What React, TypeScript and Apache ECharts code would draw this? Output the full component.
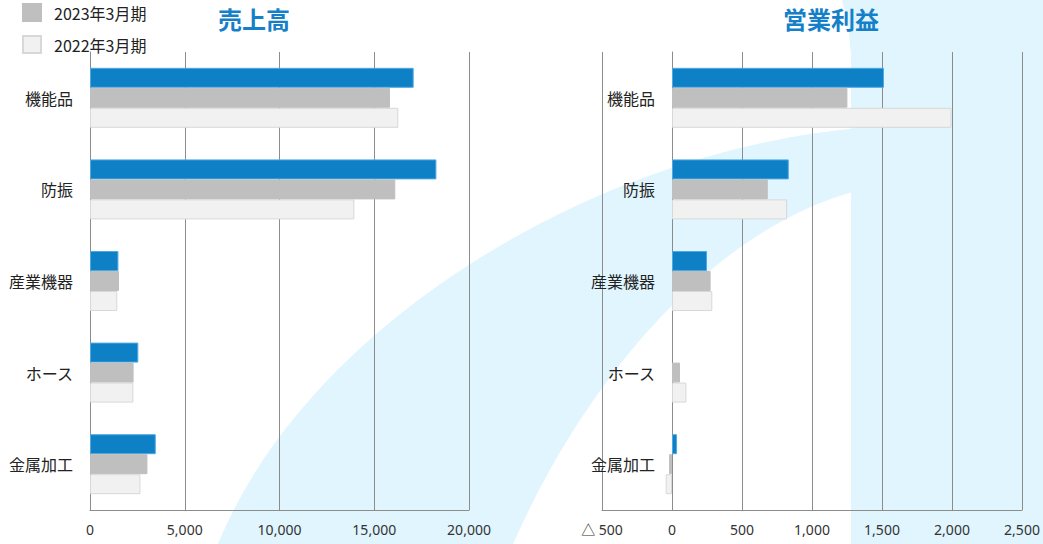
import React, { useEffect, useRef } from "react";
import * as echarts from "echarts";

// ---- data ----
const categories = ["機能品", "防振", "産業機器", "ホース", "金属加工"];
const seriesNames = ["2024年3月期", "2023年3月期", "2022年3月期"];
const legendNames = ["2023年3月期", "2022年3月期"];
const titles = ["売上高", "営業利益"];

const sales2024 = [17080, 18280, 1500, 2550, 3470];
const sales2023 = [15830, 16110, 1530, 2300, 3030];
const sales2022 = [16270, 13950, 1440, 2290, 2660];

const profit2024 = [1514, 834, 250, 0, 36];
const profit2023 = [1253, 684, 276, 57, -21];
const profit2022 = [1996, 822, 288, 103, -45];

const salesAxis = { min: 0, max: 20000, interval: 5000 };
const profitAxis = { min: -500, max: 2500, interval: 500 };

const colors = ["#0e80c6", "#bfbfbf", "#f1f1f1"];
const borders = ["#4fa8e0", "#bfbfbf", "#d8d8d8"];

echarts.graphic.registerShape(
  "bgCrescent",
  echarts.graphic.extendPath(
    "M218,544 C310,320 600,150 860,128 L860,190 C720,225 590,370 513,544 Z",
    {}
  )
);

const CJK = "'Noto Sans CJK JP', 'Noto Sans', sans-serif";
const NUM = "'Noto Sans', 'Noto Sans CJK JP', sans-serif";

function fmt(v: number): string {
  if (v < 0) return "△ " + Math.abs(v).toLocaleString("en-US");
  return v.toLocaleString("en-US");
}

export default function App() {
  const ref = useRef<HTMLDivElement>(null);
  useEffect(() => {
    document.body.style.margin = "0";
    if (!ref.current) return;
    const chart = echarts.init(ref.current, null, { renderer: "svg" });
    const gridLine = { show: true, lineStyle: { color: "#8c8c8c", width: 1 } };
    const mkX = (idx: number, ax: { min: number; max: number; interval: number }) => ({
      type: "value" as const,
      gridIndex: idx,
      min: ax.min,
      max: ax.max,
      interval: ax.interval,
      axisLine: { show: true, lineStyle: { color: "#8c8c8c", width: 1 } },
      axisTick: { show: false },
      splitLine: gridLine,
      axisLabel: { color: "#333", fontSize: 14, fontFamily: NUM, margin: 12, formatter: fmt },
    });
    const mkY = (idx: number, margin: number) => ({
      type: "category" as const,
      gridIndex: idx,
      data: categories,
      inverse: true,
      axisLine: { show: true, lineStyle: { color: "#8c8c8c", width: 1 } },
      axisTick: { show: false },
      axisLabel: {
        color: "#222",
        fontSize: 16,
        fontFamily: CJK,
        margin,
        padding: [0, 0, 5, 0],
      },
    });
    const salesData = [sales2024, sales2023, sales2022];
    const profitData = [profit2024, profit2023, profit2022];
    const series: any[] = [];
    [salesData, profitData].forEach((set, g) => {
      set.forEach((d, i) => {
        series.push({
          type: "bar",
          name: seriesNames[i],
          xAxisIndex: g,
          yAxisIndex: g,
          data: d.map((v) => (v === 0 ? { value: v, itemStyle: { borderWidth: 0 } } : v)),
          barWidth: 20,
          barGap: "0%",
          itemStyle: { color: colors[i], borderColor: borders[i], borderWidth: 1 },
        });
      });
    });
    chart.setOption({
      animation: false,
      title: [
        {
          text: titles[0],
          left: 218,
          top: 6,
          padding: 0,
          textStyle: { color: "#1580c8", fontSize: 24, fontWeight: "bold", fontFamily: CJK },
        },
        {
          text: titles[1],
          left: 783,
          top: 6,
          padding: 0,
          textStyle: { color: "#1580c8", fontSize: 24, fontWeight: "bold", fontFamily: CJK },
        },
      ],
      legend: {
        data: legendNames,
        orient: "vertical",
        left: 22,
        top: 3,
        padding: 0,
        icon: "rect",
        itemWidth: 18,
        itemHeight: 17,
        itemGap: 13,
        textStyle: { color: "#222", fontSize: 16, fontFamily: CJK, padding: [0, 0, 2, 8] },
      },
      graphic: [
        {
          type: "bgCrescent",
          x: 0,
          y: 0,
          z: -100,
          silent: true,
          style: { fill: "#e0f5fd" },
        },
        {
          type: "polygon",
          z: -100,
          silent: true,
          shape: {
            points: [
              [842, 0],
              [1043, 0],
              [1043, 544],
              [851, 544],
              [851, 55],
              [848, 22],
            ],
          },
          style: { fill: "#e0f5fd" },
        },
      ],
      grid: [
        { left: 90, top: 52, width: 379, height: 458, containLabel: false },
        { left: 602, top: 52, width: 420, height: 458, containLabel: false },
      ],
      xAxis: [mkX(0, salesAxis), mkX(1, profitAxis)],
      yAxis: [mkY(0, 17), mkY(1, -53)],
      series,
    });
    return () => chart.dispose();
  }, []);
  return <div ref={ref} style={{ width: 1043, height: 544 }} />;
}
